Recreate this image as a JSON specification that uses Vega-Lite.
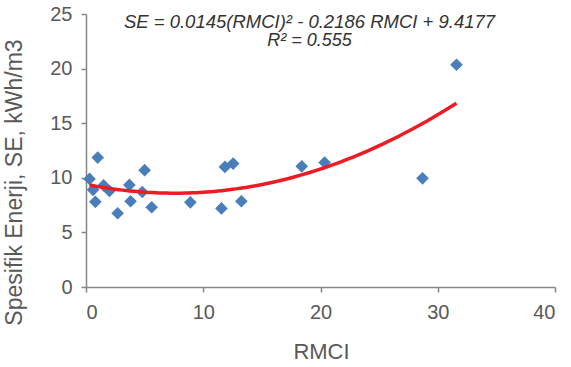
{
  "$schema": "https://vega.github.io/schema/vega-lite/v6.json",
  "width": 469,
  "height": 273,
  "autosize": "none",
  "padding": {"left": 86, "top": 14, "right": 16, "bottom": 80},
  "background": "white",
  "title": {
    "text": "SE = 0.0145(RMCI)² - 0.2186 RMCI + 9.4177",
    "subtitle": "R² = 0.555",
    "anchor": "middle",
    "frame": "group",
    "orient": "top",
    "offset": -46,
    "dx": -11,
    "font": "Liberation Sans",
    "fontSize": 18.5,
    "fontStyle": "italic",
    "fontWeight": "normal",
    "color": "#333333",
    "subtitleFont": "Liberation Sans",
    "subtitleFontSize": 18,
    "subtitleFontStyle": "italic",
    "subtitleColor": "#333333",
    "subtitlePadding": 1
  },
  "config": {
    "view": {"stroke": null},
    "axis": {
      "grid": false,
      "domainColor": "#868686",
      "domainWidth": 1.5,
      "tickColor": "#868686",
      "tickWidth": 1.5,
      "tickSize": 5,
      "labelColor": "#595959",
      "titleColor": "#595959",
      "labelFont": "Liberation Sans",
      "titleFont": "Liberation Sans",
      "labelFontSize": 20,
      "titleFontSize": 22,
      "titleFontWeight": "normal"
    }
  },
  "data": {
    "values": [
      {"RMCI": 0.3, "SE": 9.9},
      {"RMCI": 0.6, "SE": 8.9},
      {"RMCI": 1.0, "SE": 11.85},
      {"RMCI": 0.8, "SE": 7.8},
      {"RMCI": 1.5, "SE": 9.3},
      {"RMCI": 2.0, "SE": 8.8},
      {"RMCI": 2.7, "SE": 6.75},
      {"RMCI": 3.7, "SE": 9.35},
      {"RMCI": 3.8, "SE": 7.85},
      {"RMCI": 4.8, "SE": 8.7},
      {"RMCI": 5.0, "SE": 10.7},
      {"RMCI": 5.6, "SE": 7.3},
      {"RMCI": 8.9, "SE": 7.75},
      {"RMCI": 11.55, "SE": 7.2},
      {"RMCI": 11.85, "SE": 11.0},
      {"RMCI": 12.55, "SE": 11.3},
      {"RMCI": 13.25, "SE": 7.85},
      {"RMCI": 18.4, "SE": 11.05},
      {"RMCI": 20.35, "SE": 11.4},
      {"RMCI": 28.7, "SE": 9.95},
      {"RMCI": 31.6, "SE": 20.35}
    ]
  },
  "encoding": {
    "x": {
      "field": "RMCI",
      "type": "quantitative",
      "scale": {"domain": [0, 40], "nice": false, "zero": true},
      "axis": {
        "values": [0, 10, 20, 30, 40],
        "title": "RMCI",
        "labelPadding": 10,
        "titleBaseline": "alphabetic",
        "titleY": 71,
        "titleX": 235
      }
    },
    "y": {
      "field": "SE",
      "type": "quantitative",
      "scale": {"domain": [0, 25], "nice": false},
      "axis": {
        "values": [0, 5, 10, 15, 20, 25],
        "title": "Spesifik Enerji, SE, kWh/m3",
        "labelPadding": 9,
        "titleBaseline": "alphabetic",
        "titleAngle": -90,
        "titleFontSize": 23,
        "titleX": -65,
        "titleY": 168
      }
    }
  },
  "layer": [
    {
      "mark": {"type": "point", "shape": "diamond", "filled": true, "size": 160, "color": "#4a7ebb", "opacity": 1}
    },
    {
      "transform": [{"regression": "SE", "on": "RMCI", "method": "poly", "order": 2}],
      "mark": {"type": "line", "color": "#ed1c24", "strokeWidth": 3.5}
    }
  ]
}
